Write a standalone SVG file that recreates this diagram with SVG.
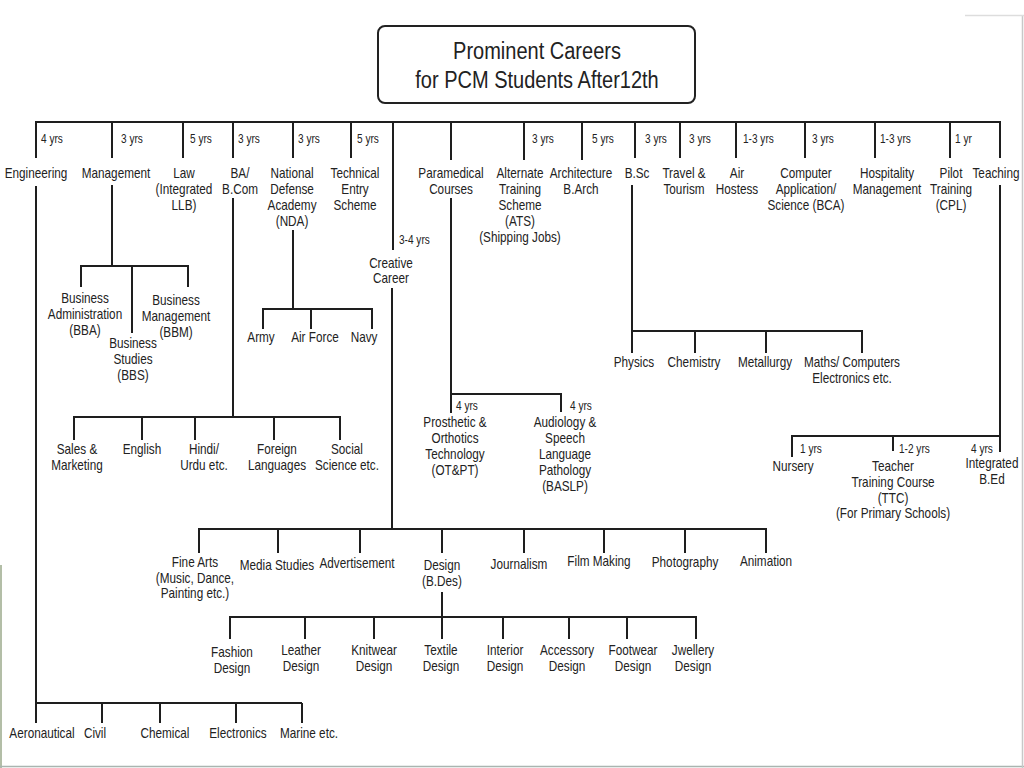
<svg xmlns="http://www.w3.org/2000/svg" width="1024" height="768" viewBox="0 0 1024 768">
<style>
text{font-family:'Liberation Sans',Arial,sans-serif;fill:#222;transform-box:fill-box}
.l{font-size:14px;text-anchor:middle;transform-origin:center;transform:scaleX(.84)}
.y{font-size:12px;text-anchor:start;transform-origin:left center;transform:scaleX(.84)}
.t{font-size:23px;text-anchor:middle;transform-origin:center;transform:scaleX(.87)}
.c line,.c polyline{stroke:#1e1e1e;stroke-width:2;fill:none}
.f{stroke-width:1.5;fill:none}
</style>
<rect width="1024" height="768" fill="#fff"/>
<line class="f" x1="1" y1="565" x2="1" y2="768" stroke="#9aa88a"/>
<line class="f" x1="0" y1="766.5" x2="1024" y2="766.5" stroke="#a9b5b0"/>
<line class="f" x1="1022.5" y1="15" x2="1022.5" y2="768" stroke="#c8c8c8"/>
<line class="f" x1="965" y1="15.5" x2="1024" y2="15.5" stroke="#dddddd"/>

<g id="title">
<rect x="378" y="26" width="317" height="77" rx="7" fill="#fff" stroke="#222" stroke-width="2"/>
<text class="t" x="537" y="59">Prominent Careers</text>
<text class="t" x="537" y="88">for PCM Students After12th</text>
</g>

<g id="connectors" class="c">
<line x1="35" y1="122" x2="1001" y2="122"/>
<line x1="36" y1="122" x2="36" y2="158"/>
<line x1="112" y1="122" x2="112" y2="158"/>
<line x1="183" y1="122" x2="183" y2="158"/>
<line x1="233" y1="122" x2="233" y2="158"/>
<line x1="293" y1="122" x2="293" y2="158"/>
<line x1="351" y1="122" x2="351" y2="158"/>
<line x1="393" y1="122" x2="393" y2="250"/>
<line x1="451" y1="122" x2="451" y2="160"/>
<line x1="524" y1="122" x2="524" y2="160"/>
<line x1="582" y1="122" x2="582" y2="160"/>
<line x1="635" y1="122" x2="635" y2="158"/>
<line x1="680" y1="122" x2="680" y2="158"/>
<line x1="736" y1="122" x2="736" y2="158"/>
<line x1="805" y1="122" x2="805" y2="158"/>
<line x1="875" y1="122" x2="875" y2="158"/>
<line x1="950" y1="122" x2="950" y2="158"/>
<line x1="1000" y1="121" x2="1000" y2="158"/>
<!-- engineering -->
<line x1="36" y1="186" x2="36" y2="723"/>
<line x1="36" y1="703" x2="302" y2="703"/>
<line x1="102" y1="703" x2="102" y2="723"/>
<line x1="160" y1="703" x2="160" y2="723"/>
<line x1="236" y1="703" x2="236" y2="723"/>
<line x1="302" y1="703" x2="302" y2="723"/>
<!-- management -->
<line x1="112" y1="185" x2="112" y2="266"/>
<polyline points="81,287 81,266 188,266 188,287"/>
<line x1="132" y1="266" x2="132" y2="333"/>
<!-- BA -->
<line x1="233" y1="198" x2="233" y2="417"/>
<polyline points="74,440 74,417 340,417 340,440"/>
<line x1="142" y1="417" x2="142" y2="440"/>
<line x1="195" y1="417" x2="195" y2="440"/>
<line x1="274" y1="417" x2="274" y2="440"/>
<!-- NDA -->
<line x1="293" y1="230" x2="293" y2="309"/>
<polyline points="263,329 263,309 372,309 372,329"/>
<line x1="311" y1="309" x2="311" y2="329"/>
<!-- creative -->
<line x1="392" y1="288" x2="392" y2="529"/>
<polyline points="199,553 199,529 766,529 766,553"/>
<line x1="278" y1="529" x2="278" y2="553"/>
<line x1="360" y1="529" x2="360" y2="553"/>
<line x1="442" y1="529" x2="442" y2="553"/>
<line x1="524" y1="529" x2="524" y2="553"/>
<line x1="604" y1="529" x2="604" y2="553"/>
<line x1="685" y1="529" x2="685" y2="553"/>
<!-- design -->
<line x1="442" y1="592" x2="442" y2="617"/>
<polyline points="230,639 230,617 696,617 696,639"/>
<line x1="305" y1="617" x2="305" y2="639"/>
<line x1="374" y1="617" x2="374" y2="639"/>
<line x1="442" y1="617" x2="442" y2="639"/>
<line x1="503" y1="617" x2="503" y2="639"/>
<line x1="569" y1="617" x2="569" y2="639"/>
<line x1="627" y1="617" x2="627" y2="639"/>
<!-- paramedical -->
<line x1="451" y1="198" x2="451" y2="413"/>
<polyline points="451,394 561,394 561,412"/>
<!-- BSc -->
<line x1="632" y1="185" x2="632" y2="353"/>
<polyline points="632,331 862,331 862,353"/>
<line x1="695" y1="331" x2="695" y2="353"/>
<line x1="766" y1="331" x2="766" y2="353"/>
<!-- teaching -->
<line x1="1000" y1="185" x2="1000" y2="452"/>
<polyline points="792,457 792,436 1000,436"/>
<line x1="893" y1="436" x2="893" y2="451"/>
</g>

<g id="years">
<text class="y" x="41" y="143">4 yrs</text>
<text class="y" x="121" y="143">3 yrs</text>
<text class="y" x="190" y="143">5 yrs</text>
<text class="y" x="238" y="143">3 yrs</text>
<text class="y" x="298" y="143">3 yrs</text>
<text class="y" x="357" y="143">5 yrs</text>
<text class="y" x="532" y="143">3 yrs</text>
<text class="y" x="592" y="143">5 yrs</text>
<text class="y" x="645" y="143">3 yrs</text>
<text class="y" x="689" y="143">3 yrs</text>
<text class="y" x="743" y="143">1-3 yrs</text>
<text class="y" x="812" y="143">3 yrs</text>
<text class="y" x="880" y="143">1-3 yrs</text>
<text class="y" x="955" y="143">1 yr</text>
<text class="y" x="399" y="244">3-4 yrs</text>
<text class="y" x="456" y="410">4 yrs</text>
<text class="y" x="570" y="410">4 yrs</text>
<text class="y" x="800" y="453">1 yrs</text>
<text class="y" x="899" y="453">1-2 yrs</text>
<text class="y" x="971" y="453">4 yrs</text>
</g>

<g id="engineering"><text class="l" x="36" y="178">Engineering</text></g>
<g id="management"><text class="l" x="116" y="178">Management</text></g>
<g id="law"><text class="l" x="184" y="178">Law<tspan x="184" dy="16">(Integrated</tspan><tspan x="184" dy="16">LLB)</tspan></text></g>
<g id="ba"><text class="l" x="240" y="178">BA/<tspan x="240" dy="16">B.Com</tspan></text></g>
<g id="nda"><text class="l" x="292" y="178">National<tspan x="292" dy="16">Defense</tspan><tspan x="292" dy="16">Academy</tspan><tspan x="292" dy="16">(NDA)</tspan></text></g>
<g id="technical"><text class="l" x="355" y="178">Technical<tspan x="355" dy="16">Entry</tspan><tspan x="355" dy="16">Scheme</tspan></text></g>
<g id="creative"><text class="l" x="391" y="268">Creative<tspan x="391" dy="15">Career</tspan></text></g>
<g id="paramedical"><text class="l" x="451" y="178">Paramedical<tspan x="451" dy="16">Courses</tspan></text></g>
<g id="ats"><text class="l" x="520" y="178">Alternate<tspan x="520" dy="16">Training</tspan><tspan x="520" dy="16">Scheme</tspan><tspan x="520" dy="16">(ATS)</tspan><tspan x="520" dy="16">(Shipping Jobs)</tspan></text></g>
<g id="architecture"><text class="l" x="581" y="178">Architecture<tspan x="581" dy="16">B.Arch</tspan></text></g>
<g id="bsc"><text class="l" x="637" y="178">B.Sc</text></g>
<g id="travel"><text class="l" x="684" y="178">Travel &amp;<tspan x="684" dy="16">Tourism</tspan></text></g>
<g id="air"><text class="l" x="737" y="178">Air<tspan x="737" dy="16">Hostess</tspan></text></g>
<g id="computer"><text class="l" x="806" y="178">Computer<tspan x="806" dy="16">Application/</tspan><tspan x="806" dy="16">Science (BCA)</tspan></text></g>
<g id="hospitality"><text class="l" x="887" y="178">Hospitality<tspan x="887" dy="16">Management</tspan></text></g>
<g id="pilot"><text class="l" x="951" y="178">Pilot<tspan x="951" dy="16">Training</tspan><tspan x="951" dy="16">(CPL)</tspan></text></g>
<g id="teaching"><text class="l" x="996" y="178">Teaching</text></g>

<g id="bba"><text class="l" x="85" y="303">Business<tspan x="85" dy="16">Administration</tspan><tspan x="85" dy="16">(BBA)</tspan></text></g>
<g id="bbs"><text class="l" x="133" y="348">Business<tspan x="133" dy="16">Studies</tspan><tspan x="133" dy="16">(BBS)</tspan></text></g>
<g id="bbm"><text class="l" x="176" y="305">Business<tspan x="176" dy="16">Management</tspan><tspan x="176" dy="16">(BBM)</tspan></text></g>

<g id="army"><text class="l" x="261" y="342">Army</text></g>
<g id="airforce"><text class="l" x="315" y="342">Air Force</text></g>
<g id="navy"><text class="l" x="364" y="342">Navy</text></g>

<g id="sales"><text class="l" x="77" y="454">Sales &amp;<tspan x="77" dy="16">Marketing</tspan></text></g>
<g id="english"><text class="l" x="142" y="454">English</text></g>
<g id="hindi"><text class="l" x="204" y="454">Hindi/<tspan x="204" dy="16">Urdu etc.</tspan></text></g>
<g id="foreign"><text class="l" x="277" y="454">Foreign<tspan x="277" dy="16">Languages</tspan></text></g>
<g id="social"><text class="l" x="347" y="454">Social<tspan x="347" dy="16">Science etc.</tspan></text></g>

<g id="prosthetic"><text class="l" x="455" y="427">Prosthetic &amp;<tspan x="455" dy="16">Orthotics</tspan><tspan x="455" dy="16">Technology</tspan><tspan x="455" dy="16">(OT&amp;PT)</tspan></text></g>
<g id="audiology"><text class="l" x="565" y="427">Audiology &amp;<tspan x="565" dy="16">Speech</tspan><tspan x="565" dy="16">Language</tspan><tspan x="565" dy="16">Pathology</tspan><tspan x="565" dy="16">(BASLP)</tspan></text></g>

<g id="physics"><text class="l" x="634" y="367">Physics</text></g>
<g id="chemistry"><text class="l" x="694" y="367">Chemistry</text></g>
<g id="metallurgy"><text class="l" x="765" y="367">Metallurgy</text></g>
<g id="maths"><text class="l" x="852" y="367">Maths/ Computers<tspan x="852" dy="16">Electronics etc.</tspan></text></g>

<g id="nursery"><text class="l" x="793" y="471">Nursery</text></g>
<g id="ttc"><text class="l" x="893" y="471">Teacher<tspan x="893" dy="16">Training Course</tspan><tspan x="893" dy="16">(TTC)</tspan><tspan x="893" dy="15">(For Primary Schools)</tspan></text></g>
<g id="bed"><text class="l" x="992" y="468">Integrated<tspan x="992" dy="16">B.Ed</tspan></text></g>

<g id="finearts"><text class="l" x="195" y="567">Fine Arts<tspan x="195" dy="16">(Music, Dance,</tspan><tspan x="195" dy="15">Painting etc.)</tspan></text></g>
<g id="media"><text class="l" x="277" y="570">Media Studies</text></g>
<g id="advertisement"><text class="l" x="357" y="568">Advertisement</text></g>
<g id="design"><text class="l" x="442" y="570">Design<tspan x="442" dy="16">(B.Des)</tspan></text></g>
<g id="journalism"><text class="l" x="519" y="569">Journalism</text></g>
<g id="film"><text class="l" x="599" y="566">Film Making</text></g>
<g id="photography"><text class="l" x="685" y="567">Photography</text></g>
<g id="animation"><text class="l" x="766" y="566">Animation</text></g>

<g id="fashion"><text class="l" x="232" y="657">Fashion<tspan x="232" dy="16">Design</tspan></text></g>
<g id="leather"><text class="l" x="301" y="655">Leather<tspan x="301" dy="16">Design</tspan></text></g>
<g id="knitwear"><text class="l" x="374" y="655">Knitwear<tspan x="374" dy="16">Design</tspan></text></g>
<g id="textile"><text class="l" x="441" y="655">Textile<tspan x="441" dy="16">Design</tspan></text></g>
<g id="interior"><text class="l" x="505" y="655">Interior<tspan x="505" dy="16">Design</tspan></text></g>
<g id="accessory"><text class="l" x="567" y="655">Accessory<tspan x="567" dy="16">Design</tspan></text></g>
<g id="footwear"><text class="l" x="633" y="655">Footwear<tspan x="633" dy="16">Design</tspan></text></g>
<g id="jwellery"><text class="l" x="693" y="655">Jwellery<tspan x="693" dy="16">Design</tspan></text></g>

<g id="aeronautical"><text class="l" x="42" y="738">Aeronautical</text></g>
<g id="civil"><text class="l" x="95" y="738">Civil</text></g>
<g id="chemical"><text class="l" x="165" y="738">Chemical</text></g>
<g id="electronics"><text class="l" x="238" y="738">Electronics</text></g>
<g id="marine"><text class="l" x="309" y="738">Marine etc.</text></g>
</svg>
